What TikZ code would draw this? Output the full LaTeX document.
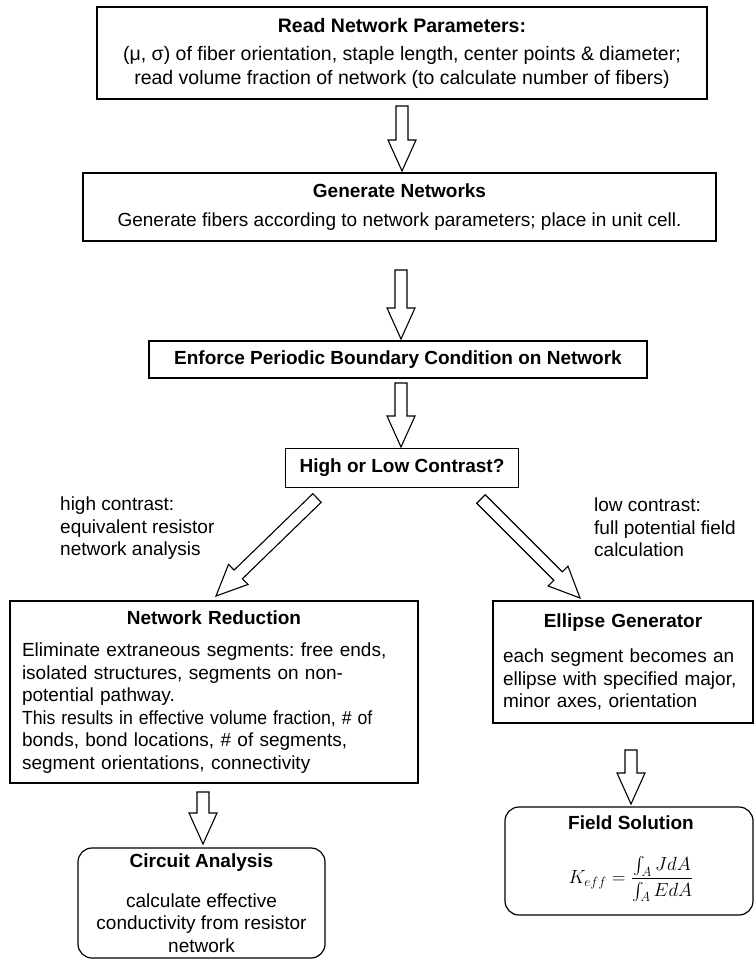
\documentclass[tikz,border=0pt]{standalone}
\usepackage{fix-cm}
\usepackage{exscale}
\usepackage{graphicx}
\usepackage{fontspec}
\setmainfont{Liberation Sans}
\usetikzlibrary{calc}
\newcommand{\blockarr}[2]{%
  \path ($(#2)!31pt!(#1)$) coordinate (fa);
  \draw[fat] ($(#1)!6pt!90:(#2)$) -- ($(fa)!6pt!-90:(#1)$) -- ($(fa)!14pt!-90:(#1)$) -- (#2)
    -- ($(fa)!14pt!90:(#1)$) -- ($(fa)!6pt!90:(#1)$) -- ($(#1)!6pt!-90:(#2)$) -- cycle;}
\tikzset{
  box/.style={draw, line width=1.2pt, inner sep=0pt, align=center, font=\fontsize{19}{22.5}\selectfont\frenchspacing},
  rbox/.style={box, rounded corners=14pt},
  fat/.style={draw, line width=1.1pt, fill=white, line join=miter},
  lbl/.style={inner sep=0pt, align=left, anchor=north west, font=\fontsize{19}{22.5}\selectfont},
  txt/.style={inner sep=0pt, font=\fontsize{19}{22.5}\selectfont}
}
\begin{document}
\begin{tikzpicture}[x=1pt, y=-1pt]
\useasboundingbox (0,0) rectangle (755,960);
% boxes
\node[box, minimum width=610pt, minimum height=92pt, font=\fontsize{19.5}{24}\selectfont\frenchspacing] (read) at (402,53)
  {\textbf{Read Network Parameters:}\\[4pt]
   (μ, σ) of fiber orientation, staple length, center points \& diameter;\\
   read volume fraction of network (to calculate number of fibers)};
\node[box, minimum width=633pt, minimum height=68pt] (gen) at (399.5,207)
  {\textbf{Generate Networks}\\[7pt]
   Generate fibers according to network parameters; place in unit cell.};
\node[box, minimum width=498pt, minimum height=37pt] (pbc) at (398,359.5)
  {\textbf{Enforce Periodic Boundary Condition on Network}};
\node[box, minimum width=233pt, minimum height=39pt] (hl) at (402,468)
  {\textbf{High or Low Contrast?}};
\node[box, minimum width=408pt, minimum height=182pt, text width=384pt, align=left] (nr) at (214,692)
  {\makebox[384pt]{\textbf{Network Reduction}}\\[10pt]
   Eliminate extraneous segments: free ends,\\
   isolated structures, segments on non-\\
   potential pathway.\\
   \scalebox{0.93}[1]{This results in effective volume fraction, \# of}\\
   bonds, bond locations, \# of segments,\\
   segment orientations, connectivity};
\node[box, minimum width=260pt, minimum height=122pt, text width=240pt, align=left] (eg) at (623,662)
  {\makebox[240pt]{\textbf{Ellipse Generator}}\\[13pt]
   each segment becomes an\\
   ellipse with specified major,\\
   minor axes, orientation};
\node[rbox, minimum width=247pt, minimum height=110pt] (ca) at (201.5,903)
  {\textbf{Circuit Analysis}\\[17pt]
   calculate effective\\
   conductivity from resistor\\
   network};
\node[rbox, minimum width=248pt, minimum height=108pt] (fs) at (629,861) {};
\node[txt] (fst) at (631,823) {\textbf{Field Solution}};
\node[txt] (fsf) at (631,879)
  {$\displaystyle K_{eff}=\frac{\int_A JdA}{\int_A EdA}$};
% labels
\node[lbl] (hlab) at (60,497) {high contrast:\\equivalent resistor\\network analysis};
\node[lbl] (llab) at (594,498) {low contrast:\\full potential field\\calculation};
% arrow end points
\coordinate (t1) at (402,106); \coordinate (h1) at (402,171);
\coordinate (t2) at (401,270); \coordinate (h2) at (401,339);
\coordinate (t3) at (401,383); \coordinate (h3) at (401,447);
\coordinate (t4) at (317,498); \coordinate (h4) at (216,596);
\coordinate (t5) at (481,499); \coordinate (h5) at (580,598);
\coordinate (t6) at (203,792); \coordinate (h6) at (203,844);
\coordinate (t7) at (631,750); \coordinate (h7) at (631,804);
\blockarr{t1}{h1}
\blockarr{t2}{h2}
\blockarr{t3}{h3}
\blockarr{t4}{h4}
\blockarr{t5}{h5}
\blockarr{t6}{h6}
\blockarr{t7}{h7}
\end{tikzpicture}
\end{document}
